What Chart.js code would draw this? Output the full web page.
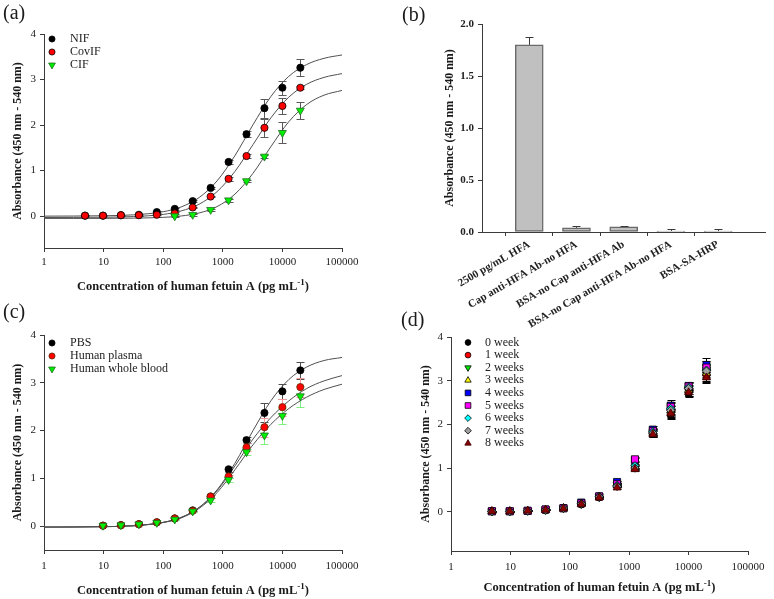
<!DOCTYPE html>
<html><head><meta charset="utf-8">
<script src="https://cdn.jsdelivr.net/npm/chart.js@4.4.1/dist/chart.umd.min.js"></script>
<style>
html,body{margin:0;padding:0;background:#fff;}
body{width:774px;height:599px;position:relative;overflow:hidden;}
canvas{position:absolute;}
</style></head><body>
<canvas id="cd" width="384" height="299" style="left:390px;top:300px"></canvas>
<canvas id="cc" width="390" height="299" style="left:0px;top:300px"></canvas>
<canvas id="ca" width="390" height="300" style="left:0px;top:0px"></canvas>
<canvas id="cb" width="384" height="330" style="left:390px;top:0px"></canvas>
<script>
// ---------- shared axes ----------
const conc = [4.88, 9.77, 19.53, 39.06, 78.13, 156.25, 312.5, 625, 1250, 2500, 5000, 10000, 20000];
const curveX = [1, 3.16, 10, 31.6, 100, 200, 400, 800, 1600, 3200, 6400, 12800, 25600, 50000, 100000];
const xTickValues = [1, 10, 100, 1000, 10000, 100000];
const yTickValues = [0, 1, 2, 3, 4];

// ---------- panel (a) ----------
const aNames = ['NIF', 'CovIF', 'CIF'];
const nifY   = [0.01, 0.01, 0.02, 0.03, 0.09, 0.16, 0.33, 0.62, 1.19, 1.80, 2.37, 2.82, 3.26];
const nifErr = [0.01, 0.01, 0.01, 0.02, 0.02, 0.02, 0.02, 0.03, 0.04, 0.07, 0.21, 0.15, 0.19];
const covY   = [0.01, 0.01, 0.02, 0.02, 0.03, 0.06, 0.19, 0.43, 0.82, 1.32, 1.94, 2.42, 2.82];
const covErr = [0.01, 0.01, 0.01, 0.01, 0.01, 0.02, 0.02, 0.02, 0.04, 0.05, 0.20, 0.18, 0.03];
const cifY   = [null, null, null, null, null, 0.00, 0.03, 0.14, 0.35, 0.77, 1.31, 1.83, 2.32];
const cifErr = [null, null, null, null, null, 0.01, 0.02, 0.02, 0.03, 0.03, 0.04, 0.23, 0.18];
const nifFit = [0.00, 0.002, 0.008, 0.028, 0.097, 0.202, 0.407, 0.773, 1.33, 2.004, 2.626, 3.07, 3.33, 3.466, 3.54];
const covFit = [-0.03, -0.028, -0.024, -0.01, 0.038, 0.114, 0.262, 0.537, 0.983, 1.568, 2.158, 2.613, 2.896, 3.047, 3.13];
const cifFit = [-0.05, -0.05, -0.049, -0.044, -0.027, 0.003, 0.069, 0.209, 0.483, 0.938, 1.525, 2.073, 2.452, 2.657, 2.76];

// ---------- panel (b) ----------
const bLabels = ['2500 pg/mL HFA', 'Cap anti-HFA Ab-no HFA', 'BSA-no Cap anti-HFA Ab', 'BSA-no Cap anti-HFA Ab-no HFA', 'BSA-SA-HRP'];
const bValues = [1.80, 0.04, 0.05, 0.01, 0.01];
const bErr    = [0.075, 0.015, 0.01, 0.02, 0.02];
const bTicks  = [0, 0.5, 1.0, 1.5, 2.0];

// ---------- panel (c) ----------
const cNames = ['PBS', 'Human plasma', 'Human whole blood'];
const pbsY     = [null, 0.01, 0.02, 0.04, 0.08, 0.16, 0.33, 0.62, 1.19, 1.80, 2.37, 2.82, 3.26];
const pbsErr   = [null, 0.01, 0.01, 0.01, 0.01, 0.02, 0.02, 0.03, 0.05, 0.07, 0.20, 0.15, 0.18];
const plasY    = [null, 0.01, 0.02, 0.04, 0.08, 0.16, 0.32, 0.62, 1.04, 1.65, 2.07, 2.49, 2.91];
const plasErr  = [null, 0.01, 0.01, 0.01, 0.01, 0.02, 0.02, 0.03, 0.04, 0.08, 0.20, 0.18, 0.20];
const bloodY   = [null, 0.01, 0.02, 0.04, 0.07, 0.14, 0.31, 0.54, 0.97, 1.55, 1.90, 2.31, 2.72];
const bloodErr = [null, 0.01, 0.01, 0.01, 0.01, 0.02, 0.02, 0.04, 0.04, 0.07, 0.18, 0.17, 0.22];
const pbsFit   = [-0.02, -0.018, -0.012, 0.008, 0.078, 0.183, 0.389, 0.757, 1.317, 1.995, 2.621, 3.067, 3.33, 3.466, 3.53];
const plasFit  = [-0.02, -0.018, -0.012, 0.008, 0.08, 0.18, 0.39, 0.74, 1.26, 1.82, 2.27, 2.62, 2.88, 3.04, 3.15];
const bloodFit = [-0.02, -0.018, -0.012, 0.006, 0.075, 0.17, 0.37, 0.70, 1.18, 1.70, 2.13, 2.46, 2.70, 2.86, 2.97];

// ---------- panel (d) ----------
const dNames = ['0 week', '1 week', '2 weeks', '3 weeks', '4 weeks', '5 weeks', '6 weeks', '7 weeks', '8 weeks'];
const w0 = [0.01, 0.01, 0.02, 0.04, 0.08, 0.17, 0.33, 0.60, 1.00, 1.78, 2.22, 2.70, 3.15];
const w1 = [0.01, 0.01, 0.02, 0.04, 0.08, 0.17, 0.33, 0.60, 1.01, 1.80, 2.26, 2.75, 3.12];
const w2 = [0.01, 0.01, 0.02, 0.04, 0.08, 0.18, 0.34, 0.62, 1.02, 1.82, 2.30, 2.80, 3.20];
const w3 = [0.01, 0.01, 0.02, 0.04, 0.08, 0.18, 0.34, 0.61, 1.00, 1.80, 2.32, 2.78, 3.18];
const w4 = [0.01, 0.01, 0.02, 0.05, 0.08, 0.21, 0.35, 0.68, 1.18, 1.88, 2.43, 2.88, 3.36];
const w5 = [0.01, 0.01, 0.02, 0.05, 0.08, 0.19, 0.35, 0.63, 1.20, 1.85, 2.40, 2.87, 3.30];
const w6 = [0.01, 0.01, 0.02, 0.04, 0.08, 0.18, 0.35, 0.60, 1.05, 1.83, 2.36, 2.85, 3.24];
const w7 = [0.01, 0.01, 0.02, 0.04, 0.08, 0.18, 0.34, 0.58, 1.00, 1.80, 2.32, 2.82, 3.22];
const w8 = [0.01, 0.01, 0.02, 0.04, 0.07, 0.17, 0.32, 0.55, 0.97, 1.77, 2.25, 2.73, 3.07];
const e0 = [0.01, 0.01, 0.01, 0.01, 0.01, 0.02, 0.02, 0.03, 0.05, 0.08, 0.10, 0.08, 0.15];
const e1 = [0.01, 0.01, 0.01, 0.01, 0.01, 0.02, 0.02, 0.03, 0.04, 0.07, 0.10, 0.09, 0.14];
const e2 = [0.01, 0.01, 0.01, 0.01, 0.01, 0.02, 0.02, 0.03, 0.04, 0.07, 0.11, 0.10, 0.15];
const e3 = [0.01, 0.01, 0.01, 0.01, 0.01, 0.02, 0.02, 0.03, 0.04, 0.06, 0.10, 0.09, 0.14];
const e4 = [0.01, 0.01, 0.01, 0.01, 0.01, 0.02, 0.02, 0.03, 0.05, 0.08, 0.12, 0.10, 0.17];
const e5 = [0.01, 0.01, 0.01, 0.01, 0.01, 0.02, 0.02, 0.03, 0.05, 0.07, 0.12, 0.11, 0.16];
const e6 = [0.01, 0.01, 0.01, 0.01, 0.01, 0.02, 0.02, 0.03, 0.04, 0.07, 0.12, 0.10, 0.15];
const e7 = [0.01, 0.01, 0.01, 0.01, 0.01, 0.02, 0.02, 0.03, 0.04, 0.08, 0.13, 0.12, 0.15];
const e8 = [0.01, 0.01, 0.01, 0.01, 0.01, 0.02, 0.02, 0.03, 0.04, 0.07, 0.10, 0.08, 0.12];

// ---------- helpers ----------
const SERIF = '"Liberation Serif","Times New Roman",serif';
Chart.defaults.font.family = SERIF;
Chart.defaults.color = '#222';
const AX = '#3a3a3a';

function drawErr(chart, o) {
  const ctx = chart.ctx, ys = chart.scales.y;
  ctx.save();
  ctx.lineWidth = 1;
  chart.data.datasets.forEach((ds, i) => {
    const meta = chart.getDatasetMeta(i);
    meta.data.forEach((el, j) => {
      const d = ds.data[j];
      let v, e;
      if (ds.errors) { v = d; e = ds.errors[j]; }
      else if (d && typeof d === 'object') { v = d.y; e = d.e; }
      if (v == null || e == null) return;
      const x = Math.round(el.x) + 0.5;
      const yTop = Math.round(ys.getPixelForValue(v + e)) + 0.5;
      const yBot = o.upOnly ? el.y : Math.round(ys.getPixelForValue(v - e)) + 0.5;
      ctx.strokeStyle = ds.errColor || '#444';
      ctx.beginPath();
      ctx.moveTo(x, yTop); ctx.lineTo(x, yBot);
      ctx.moveTo(x - o.cap, yTop); ctx.lineTo(x + o.cap, yTop);
      if (!o.upOnly) { ctx.moveTo(x - o.cap, yBot); ctx.lineTo(x + o.cap, yBot); }
      ctx.stroke();
    });
  });
  ctx.restore();
}
const errPlugin = {
  id: 'errbars',
  beforeDatasetsDraw(chart, args, o) { if (o.phase !== 'after') drawErr(chart, o); },
  afterDatasetsDraw(chart, args, o) { if (o.phase === 'after') drawErr(chart, o); }
};
const legendPlugin = {
  id: 'inLegend',
  afterDatasetsDraw(chart, args, o) {
    if (o.x == null) return;
    const ctx = chart.ctx; ctx.save();
    ctx.font = o.size + 'px ' + SERIF; ctx.textBaseline = 'middle'; ctx.textAlign = 'left';
    let k = 0;
    chart.data.datasets.forEach(ds => {
      if (!ds.legend) return;
      const y = o.y + k * o.step;
      ctx.fillStyle = ds.pointBackgroundColor; ctx.strokeStyle = ds.pointBorderColor; ctx.lineWidth = ds.pointBorderWidth;
      Chart.helpers.drawPoint(ctx, { pointStyle: ds.pointStyle, rotation: ds.pointRotation || 0, radius: ds.pointRadius * o.scale, borderWidth: ds.pointBorderWidth }, o.x, y);
      ctx.fillStyle = '#222'; ctx.fillText(ds.label, o.textX, y);
      k++;
    });
    ctx.restore();
  }
};
const textPlugin = {
  id: 'panelText',
  afterDraw(chart, args, o) {
    const ctx = chart.ctx, ca = chart.chartArea;
    ctx.save(); ctx.fillStyle = '#1a1a1a';
    if (o.label) {
      ctx.font = '20px ' + SERIF; ctx.textAlign = 'left'; ctx.textBaseline = 'alphabetic';
      ctx.fillText(o.label, o.labelX, o.labelY);
    }
    if (o.yTitle) {
      ctx.save();
      ctx.translate(o.yTitleX, (ca.top + ca.bottom) / 2);
      ctx.rotate(-Math.PI / 2);
      ctx.font = 'bold ' + o.ySize + 'px ' + SERIF; ctx.textAlign = 'center'; ctx.textBaseline = 'middle';
      ctx.fillText(o.yTitle, 0, 0);
      ctx.restore();
    }
    if (o.xTitle) {
      const mainF = 'bold ' + o.xSize + 'px ' + SERIF, supF = 'bold ' + Math.round(o.xSize * 0.7) + 'px ' + SERIF;
      ctx.font = mainF; const w1 = ctx.measureText(o.xTitle).width; const w3 = ctx.measureText(o.xTail).width;
      ctx.font = supF; const w2 = ctx.measureText(o.xSup).width;
      let x = (ca.left + ca.right) / 2 - (w1 + w2 + w3) / 2;
      ctx.textAlign = 'left'; ctx.textBaseline = 'alphabetic';
      const base = o.xTitleY;
      ctx.font = mainF; ctx.fillText(o.xTitle, x, base); x += w1;
      ctx.font = supF; ctx.fillText(o.xSup, x, base - o.xSize * 0.42); x += w2;
      ctx.font = mainF; ctx.fillText(o.xTail, x, base);
    }
    ctx.restore();
  }
};

function pointSet(label, ys, errs, st, idx) {
  const data = [];
  conc.forEach((x, i) => { if (ys[i] != null) data.push({ x: x, y: ys[i], e: errs[i] }); });
  return {
    label, data, legend: true, showLine: false, order: 50 - idx,
    pointStyle: st.style, pointRotation: st.rot || 0, pointRadius: st.r,
    pointBackgroundColor: st.fill, pointBorderColor: st.border || '#000', pointBorderWidth: 0.8,
    backgroundColor: st.fill, borderColor: st.border || '#000', errColor: st.err || '#555'
  };
}
function curveSet(fit) {
  return {
    data: curveX.map((x, i) => ({ x: x, y: fit[i] })), showLine: true, pointRadius: 0,
    borderColor: '#505050', borderWidth: 1, cubicInterpolationMode: 'monotone', order: 100, legend: false
  };
}
function logX(height, pad) {
  return {
    type: 'logarithmic', min: 1, max: 100000, position: 'bottom',
    afterBuildTicks: s => { s.ticks = xTickValues.map(v => ({ value: v })); },
    afterFit: s => { s.height = height; },
    ticks: { autoSkip: false, maxRotation: 0, minRotation: 0, padding: pad, font: { size: 11 }, color: '#222', callback: v => String(v) },
    grid: { drawOnChartArea: false, drawTicks: true, tickLength: 4, color: AX, lineWidth: 1 },
    border: { display: true, color: AX, width: 1 }
  };
}
function linY(min, width) {
  return {
    type: 'linear', min: min, max: 4,
    afterBuildTicks: s => { s.ticks = yTickValues.map(v => ({ value: v })); },
    afterFit: s => { s.width = width; },
    ticks: { padding: 4, font: { size: 11 }, color: '#222', callback: v => String(v) },
    grid: { drawOnChartArea: false, drawTicks: true, tickLength: 4, color: AX, lineWidth: 1 },
    border: { display: true, color: AX, width: 1 }
  };
}
function baseOpts() {
  return { responsive: false, animation: false, devicePixelRatio: 1, events: [] };
}

// ---------- chart (a) ----------
new Chart(document.getElementById('ca'), {
  type: 'scatter',
  data: { datasets: [
    pointSet(aNames[0], nifY, nifErr, { style: 'circle', r: 3.6, fill: '#000000', err: '#5a5a5a' }, 0),
    pointSet(aNames[1], covY, covErr, { style: 'circle', r: 3.6, fill: '#ff0000', err: '#5a5a5a' }, 1),
    pointSet(aNames[2], cifY, cifErr, { style: 'triangle', rot: 180, r: 4.6, fill: '#00ee00', border: '#1f6f1f', err: '#5a5a5a' }, 2),
    curveSet(nifFit), curveSet(covFit), curveSet(cifFit)
  ] },
  options: Object.assign(baseOpts(), {
    layout: { padding: { left: 0, top: 34, right: 48, bottom: 0 } },
    scales: { x: logX(52, 4), y: linY(-0.7, 44) },
    plugins: {
      legend: { display: false }, tooltip: { enabled: false },
      errbars: { cap: 4, phase: 'before' },
      inLegend: { x: 52, y: 39, step: 13, textX: 70, size: 12, scale: 0.85 },
      panelText: { label: '(a)', labelX: 3, labelY: 19, yTitle: 'Absorbance (450 nm - 540 nm)', yTitleX: 18, ySize: 12,
        xTitle: 'Concentration of human fetuin A (pg mL', xSup: '-1', xTail: ')', xTitleY: 290, xSize: 12.5 }
    }
  }),
  plugins: [errPlugin, legendPlugin, textPlugin]
});

// ---------- chart (b) ----------
new Chart(document.getElementById('cb'), {
  type: 'bar',
  data: {
    labels: [''].concat(bLabels, ['']),
    datasets: [{
      data: [null].concat(bValues, [null]), errors: [null].concat(bErr, [null]),
      backgroundColor: '#c0c0c0', borderColor: '#6a6a6a', borderWidth: 1.5, borderSkipped: false,
      barThickness: 28, errColor: '#3a3a3a'
    }]
  },
  options: Object.assign(baseOpts(), {
    layout: { padding: { left: 0, top: 24, right: 4, bottom: 0 } },
    scales: {
      x: {
        type: 'category', offset: false,
        afterFit: s => { s.height = 98; },
        ticks: { autoSkip: false, minRotation: 30, maxRotation: 30, padding: 2, font: { size: 11, weight: 'bold' }, color: '#222' },
        grid: { drawOnChartArea: false, drawTicks: true, tickLength: 4, color: c => (c.index === 0 || c.index === bLabels.length + 1) ? 'rgba(0,0,0,0)' : AX },
        border: { display: true, color: AX, width: 1 }
      },
      y: {
        type: 'linear', min: 0, max: 2,
        afterBuildTicks: s => { s.ticks = bTicks.map(v => ({ value: v })); },
        afterFit: s => { s.width = 92; },
        ticks: { padding: 4, font: { size: 11, weight: 'bold' }, color: '#222', callback: v => Number(v).toFixed(1) },
        grid: { drawOnChartArea: false, drawTicks: true, tickLength: 4, color: AX },
        border: { display: true, color: AX, width: 1 }
      }
    },
    plugins: {
      legend: { display: false }, tooltip: { enabled: false },
      errbars: { cap: 4, phase: 'after', upOnly: true },
      panelText: { label: '(b)', labelX: 12, labelY: 21, yTitle: 'Absorbance (450 nm - 540 nm)', yTitleX: 60, ySize: 12 }
    }
  }),
  plugins: [errPlugin, textPlugin]
});

// ---------- chart (c) ----------
new Chart(document.getElementById('cc'), {
  type: 'scatter',
  data: { datasets: [
    pointSet(cNames[0], pbsY, pbsErr, { style: 'circle', r: 3.6, fill: '#000000', err: '#505050' }, 0),
    pointSet(cNames[1], plasY, plasErr, { style: 'circle', r: 3.6, fill: '#ff0000', border: '#5a2a00', err: '#f29a9a' }, 1),
    pointSet(cNames[2], bloodY, bloodErr, { style: 'triangle', rot: 180, r: 4.6, fill: '#00ee00', border: '#1f6f1f', err: '#7fef7f' }, 2),
    curveSet(pbsFit), curveSet(plasFit), curveSet(bloodFit)
  ] },
  options: Object.assign(baseOpts(), {
    layout: { padding: { left: 0, top: 35, right: 48, bottom: 0 } },
    scales: { x: logX(49, 6), y: linY(-0.5, 44) },
    plugins: {
      legend: { display: false }, tooltip: { enabled: false },
      errbars: { cap: 4, phase: 'before' },
      inLegend: { x: 52, y: 43, step: 13, textX: 70, size: 12, scale: 0.85 },
      panelText: { label: '(c)', labelX: 3, labelY: 18, yTitle: 'Absorbance (450 nm - 540 nm)', yTitleX: 18, ySize: 12,
        xTitle: 'Concentration of human fetuin A (pg mL', xSup: '-1', xTail: ')', xTitleY: 294, xSize: 12.5 }
    }
  }),
  plugins: [errPlugin, legendPlugin, textPlugin]
});

// ---------- chart (d) ----------
const dStyles = [
  { style: 'circle', r: 3.6, fill: '#000000', err: '#000' },
  { style: 'circle', r: 3.6, fill: '#ff0000', err: '#000' },
  { style: 'triangle', rot: 180, r: 4.6, fill: '#00ee00', err: '#000' },
  { style: 'triangle', r: 4.6, fill: '#ffff00', err: '#000' },
  { style: 'rect', r: 5, fill: '#0000ff', err: '#000' },
  { style: 'rect', r: 5, fill: '#ff00ff', err: '#000' },
  { style: 'rectRot', r: 4.2, fill: '#00ffff', err: '#000' },
  { style: 'rectRot', r: 4.2, fill: '#a0a0a0', err: '#808080' },
  { style: 'triangle', r: 4.6, fill: '#8b0000', border: '#3a0000', err: '#000' }
];
const dSeries = [w0, w1, w2, w3, w4, w5, w6, w7, w8];
const dErrs = [e0, e1, e2, e3, e4, e5, e6, e7, e8];
new Chart(document.getElementById('cd'), {
  type: 'scatter',
  data: { datasets: dSeries.map((s, i) => pointSet(dNames[i], s, dErrs[i], dStyles[i], i)) },
  options: Object.assign(baseOpts(), {
    layout: { padding: { left: 0, top: 37, right: 26, bottom: 0 } },
    scales: { x: logX(48, 6), y: linY(-0.9, 61) },
    plugins: {
      legend: { display: false }, tooltip: { enabled: false },
      errbars: { cap: 4, phase: 'before' },
      inLegend: { x: 78, y: 42.5, step: 12.6, textX: 95, size: 12, scale: 0.8 },
      panelText: { label: '(d)', labelX: 11, labelY: 26, yTitle: 'Absorbance (450 nm - 540 nm)', yTitleX: 36, ySize: 12,
        xTitle: 'Concentration of human fetuin A (pg mL', xSup: '-1', xTail: ')', xTitleY: 291, xSize: 12.5 }
    }
  }),
  plugins: [errPlugin, legendPlugin, textPlugin]
});
</script>
</body></html>
